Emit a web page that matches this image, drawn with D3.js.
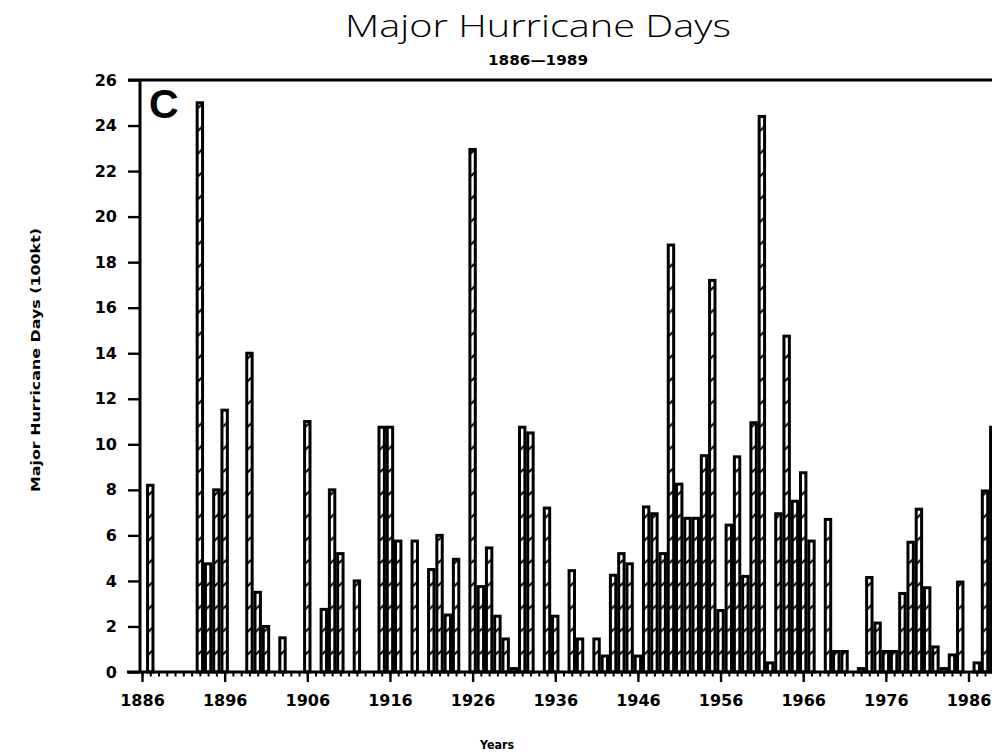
<!DOCTYPE html>
<html>
<head>
<meta charset="utf-8">
<title>Major Hurricane Days</title>
<script src="https://cdn.jsdelivr.net/npm/d3@7"></script>
<style>
  body { margin: 0; background: #fff; }
  svg { display: block; }
  .axis text { font-family: "DejaVu Sans", sans-serif; font-weight: bold; font-size: 16px; fill: #000; }
  .axis line, .axis path { stroke: #000; }
</style>
</head>
<body>
<svg id="chart"></svg>
<script>
// Major hurricane days per season, one value per year starting at firstYear
const firstYear = 1886;
const majorHurricaneDays = [
  0, 8.2, 0, 0, 0, 0, 0, 25.0, 4.75, 8.0,            // 1886-1895
  11.5, 0, 0, 14.0, 3.5, 2.0, 0, 1.5, 0, 0,           // 1896-1905
  11.0, 0, 2.75, 8.0, 5.2, 0, 4.0, 0, 0, 10.75,       // 1906-1915
  10.75, 5.75, 0, 5.75, 0, 4.5, 6.0, 2.5, 4.95, 0,    // 1916-1925
  22.95, 3.75, 5.45, 2.45, 1.45, 0.15, 10.75, 10.5, 0, 7.2,  // 1926-1935
  2.45, 0, 4.45, 1.45, 0, 1.45, 0.7, 4.25, 5.2, 4.75, // 1936-1945
  0.7, 7.25, 6.95, 5.2, 18.75, 8.25, 6.75, 6.75, 9.5, 17.2,  // 1946-1955
  2.7, 6.45, 9.45, 4.2, 10.95, 24.4, 0.4, 6.95, 14.75, 7.5,  // 1956-1965
  8.75, 5.75, 0, 6.7, 0.9, 0.9, 0, 0.15, 4.15, 2.15,  // 1966-1975
  0.9, 0.9, 3.45, 5.7, 7.15, 3.7, 1.1, 0.15, 0.75, 3.95,     // 1976-1985
  0, 0.4, 7.95, 10.75                                 // 1986-1989
];
const yTickValues = [0, 2, 4, 6, 8, 10, 12, 14, 16, 18, 20, 22, 24, 26];
const xTickYears = [1886, 1896, 1906, 1916, 1926, 1936, 1946, 1956, 1966, 1976, 1986];

class HurricaneDaysChart {

    constructor(_config, _data) {
        this.config = {
            parentElement: _config.parentElement,
            containerWidth: 992,
            containerHeight: 756,
            axisX: 140,
            plotTop: 80,
            plotBottom: 672
        };
        this.data = _data;
        this.initVis();
    }

    initVis() {
        let vis = this;
        const c = vis.config;

        vis.svg = d3.select(c.parentElement)
            .attr('width', c.containerWidth)
            .attr('height', c.containerHeight);

        vis.xScale = d3.scaleLinear()
            .domain([1886, 1986])
            .range([142, 968.5]);

        vis.yScale = d3.scaleLinear()
            .domain([0, 26])
            .range([c.plotBottom, c.plotTop]);

        vis.step = vis.xScale(firstYear + 1) - vis.xScale(firstYear);
        vis.unit = vis.yScale(0) - vis.yScale(1);

        // hatch: white slit broken by short dark strokes, tiled on the bar grid
        const pat = vis.svg.append('defs').append('pattern')
            .attr('id', 'hatch')
            .attr('patternUnits', 'userSpaceOnUse')
            .attr('x', vis.xScale(firstYear) - vis.step / 2)
            .attr('y', vis.yScale(0))
            .attr('width', vis.step)
            .attr('height', vis.unit);
        pat.append('rect')
            .attr('width', vis.step)
            .attr('height', vis.unit)
            .attr('fill', '#fff');
        const ly = vis.unit * 0.15;
        pat.append('line')
            .attr('x1', vis.step / 2 - 2).attr('y1', ly + 2)
            .attr('x2', vis.step / 2 + 2).attr('y2', ly - 2)
            .attr('stroke', '#000')
            .attr('stroke-width', 2);

        vis.updateVis();
    }

    updateVis() {
        let vis = this;
        vis.bars = vis.data
            .map((v, i) => ({year: firstYear + i, value: v}))
            .filter(d => d.value > 0);
        vis.renderVis();
    }

    renderVis() {
        let vis = this;
        const c = vis.config;
        const barW = 5.4;

        // Bars
        vis.svg.append('g')
            .selectAll('rect')
            .data(vis.bars)
            .join('rect')
            .attr('x', d => vis.xScale(d.year) - barW / 2)
            .attr('y', d => vis.yScale(d.value))
            .attr('width', barW)
            .attr('height', d => vis.yScale(0) - vis.yScale(d.value))
            .attr('fill', 'url(#hatch)')
            .attr('stroke', '#000')
            .attr('stroke-width', 3);

        // Y axis
        const yAxisG = vis.svg.append('g')
            .attr('class', 'axis y-axis')
            .attr('transform', `translate(${c.axisX},0)`)
            .call(d3.axisLeft(vis.yScale)
                .tickValues(yTickValues)
                .tickSize(12)
                .tickSizeOuter(0)
                .tickPadding(11)
                .tickFormat(d3.format('d')));
        yAxisG.select('.domain').remove();
        yAxisG.selectAll('.tick line').attr('stroke-width', 2.4);

        // X axis: minor ticks for every year, longer ones with labels every decade
        const allYears = d3.range(firstYear, firstYear + vis.data.length);
        const minorG = vis.svg.append('g')
            .attr('class', 'axis x-minor')
            .attr('transform', `translate(0,${c.plotBottom})`)
            .call(d3.axisBottom(vis.xScale)
                .tickValues(allYears)
                .tickSize(4.5)
                .tickSizeOuter(0)
                .tickFormat(''));
        minorG.select('.domain').remove();
        minorG.selectAll('.tick line').attr('stroke-width', 2);

        const xAxisG = vis.svg.append('g')
            .attr('class', 'axis x-axis')
            .attr('transform', `translate(0,${c.plotBottom})`)
            .call(d3.axisBottom(vis.xScale)
                .tickValues(xTickYears)
                .tickSize(10)
                .tickSizeOuter(0)
                .tickPadding(13)
                .tickFormat(d3.format('d')));
        xAxisG.select('.domain').remove();
        xAxisG.selectAll('.tick line').attr('stroke-width', 2.4);

        // Frame lines: left axis, baseline and top rule
        vis.svg.append('line')
            .attr('x1', c.axisX).attr('x2', c.axisX)
            .attr('y1', c.plotTop).attr('y2', c.plotBottom)
            .attr('stroke', '#000').attr('stroke-width', 3);
        vis.svg.append('line')
            .attr('x1', 127).attr('x2', c.containerWidth)
            .attr('y1', c.plotBottom).attr('y2', c.plotBottom)
            .attr('stroke', '#000').attr('stroke-width', 3);
        vis.svg.append('line')
            .attr('x1', 128).attr('x2', c.containerWidth)
            .attr('y1', vis.yScale(26)).attr('y2', vis.yScale(26))
            .attr('stroke', '#000').attr('stroke-width', 2.8);

        // Titles
        vis.svg.append('text')
            .attr('x', 538).attr('y', 37)
            .attr('text-anchor', 'middle')
            .attr('textLength', 386)
            .attr('lengthAdjust', 'spacingAndGlyphs')
            .style('font-family', '"Open Sans", "DejaVu Sans", sans-serif')
            .style('font-weight', 300)
            .style('font-size', '31px')
            .text('Major Hurricane Days');

        vis.svg.append('text')
            .attr('x', 538).attr('y', 65)
            .attr('text-anchor', 'middle')
            .attr('textLength', 100)
            .attr('lengthAdjust', 'spacingAndGlyphs')
            .style('font-family', '"DejaVu Sans", sans-serif')
            .style('font-weight', 'bold')
            .style('font-size', '13.5px')
            .text('1886\u20141989');

        vis.svg.append('text')
            .attr('x', 149).attr('y', 118)
            .style('font-family', '"Liberation Sans", Arial, sans-serif')
            .style('font-weight', 'bold')
            .style('font-size', '41px')
            .text('C');

        vis.svg.append('text')
            .attr('transform', 'translate(40,360) rotate(-90)')
            .attr('text-anchor', 'middle')
            .attr('textLength', 264)
            .attr('lengthAdjust', 'spacingAndGlyphs')
            .style('font-family', '"DejaVu Sans", sans-serif')
            .style('font-weight', 'bold')
            .style('font-size', '13px')
            .text('Major Hurricane Days (100kt)');

        vis.svg.append('text')
            .attr('x', 497).attr('y', 749)
            .attr('text-anchor', 'middle')
            .attr('textLength', 34)
            .attr('lengthAdjust', 'spacingAndGlyphs')
            .style('font-family', '"DejaVu Sans", sans-serif')
            .style('font-weight', 'bold')
            .style('font-size', '12px')
            .text('Years');
    }
}

new HurricaneDaysChart({parentElement: '#chart'}, majorHurricaneDays);
</script>
</body>
</html>
